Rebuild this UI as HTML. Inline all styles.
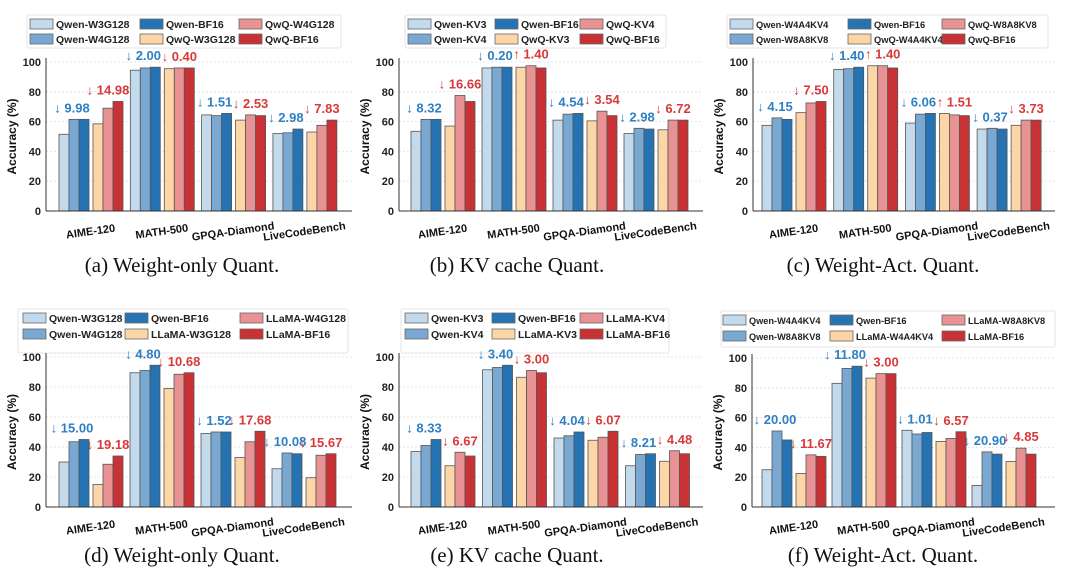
<!DOCTYPE html>
<html><head><meta charset="utf-8">
<style>
html,body{margin:0;padding:0;background:#fff;}
svg{display:block;}
text{font-family:"Liberation Sans",sans-serif;}
.cap{font-family:"Liberation Serif",serif;font-size:21px;fill:#111;}
</style></head>
<body>
<svg id="fig" width="1080" height="576" viewBox="0 0 1080 576"></svg>
<script>
const categories = ["AIME-120","MATH-500","GPQA-Diamond","LiveCodeBench"];
const yTicks = [0,20,40,60,80,100];
const colors = ["#c3d9ec","#79a9d2","#2673b4","#fcd6a6","#e89293","#c93234"];

const namesA = ["Qwen-W3G128","Qwen-W4G128","Qwen-BF16","QwQ-W3G128","QwQ-W4G128","QwQ-BF16"];
const namesB = ["Qwen-KV3","Qwen-KV4","Qwen-BF16","QwQ-KV3","QwQ-KV4","QwQ-BF16"];
const namesC = ["Qwen-W4A4KV4","Qwen-W8A8KV8","Qwen-BF16","QwQ-W4A4KV4","QwQ-W8A8KV8","QwQ-BF16"];
const namesD = ["Qwen-W3G128","Qwen-W4G128","Qwen-BF16","LLaMA-W3G128","LLaMA-W4G128","LLaMA-BF16"];
const namesE = ["Qwen-KV3","Qwen-KV4","Qwen-BF16","LLaMA-KV3","LLaMA-KV4","LLaMA-BF16"];
const namesF = ["Qwen-W4A4KV4","Qwen-W8A8KV8","Qwen-BF16","LLaMA-W4A4KV4","LLaMA-W8A8KV8","LLaMA-BF16"];

const valuesA = [[51.5,61.5,61.5,58.5,69,73.5],[94.5,96,96.5,95.5,96,96],[64.5,64,65.5,61,64.5,64],[52,52.5,55,53,57.5,61]];
const valuesB = [[53.5,61.5,61.5,57,77.5,73.5],[96,96.5,96.5,96.5,97.5,96],[61,65,65.5,60.5,67,64],[52,55.5,55,54.5,61,61]];
const valuesC = [[57.5,62.5,61.5,66,72.5,73.5],[95,95.5,96.5,97.5,97.5,96],[59,65,65.5,65.5,64.5,64],[55,55.5,55,57.5,61,61]];
const valuesD = [[30,43.5,45,15,28.5,34],[89.5,91,94.5,79,88.5,89.5],[49,50,50,33,43.5,50.5],[25.5,36,35.5,19.5,34.5,35.5]];
const valuesE = [[37,41,45,27.5,36.5,34],[91.5,93,94.5,86.5,91,89.5],[46,47.5,50,44.5,46.5,50.5],[27.5,35,35.5,30.5,37.5,35.5]];
const valuesF = [[25,51,45,22.5,35,34],[83,93,94.5,86.5,89.5,89.5],[51.5,49,50,44,46,50.5],[14.5,37,35.5,30.5,39.5,35.5]];

const blueA = ["↓ 9.98","↓ 2.00","↓ 1.51","↓ 2.98"], redA = ["↓ 14.98","↓ 0.40","↓ 2.53","↓ 7.83"];
const blueB = ["↓ 8.32","↓ 0.20","↓ 4.54","↓ 2.98"], redB = ["↓ 16.66","↑ 1.40","↓ 3.54","↓ 6.72"];
const blueC = ["↓ 4.15","↓ 1.40","↓ 6.06","↓ 0.37"], redC = ["↓ 7.50","↑ 1.40","↑ 1.51","↓ 3.73"];
const blueD = ["↓ 15.00","↓ 4.80","↓ 1.52","↓ 10.08"], redD = ["↓ 19.18","↓ 10.68","↓ 17.68","↓ 15.67"];
const blueE = ["↓ 8.33","↓ 3.40","↓ 4.04","↓ 8.21"], redE = ["↓ 6.67","↓ 3.00","↓ 6.07","↓ 4.48"];
const blueF = ["↓ 20.00","↓ 11.80","↓ 1.01","↓ 20.90"], redF = ["↓ 11.67","↓ 3.00","↓ 6.57","↓ 4.85"];

const captions = ["(a)  Weight-only Quant.","(b)  KV cache Quant.","(c)  Weight-Act. Quant.","(d)  Weight-only Quant.","(e)  KV cache Quant.","(f)  Weight-Act. Quant."];

const NS="http://www.w3.org/2000/svg";
const svg=document.getElementById('fig');
function mk(tag,attrs,parent,txt){const e=document.createElementNS(NS,tag);for(const k in attrs)e.setAttribute(k,attrs[k]);if(txt!==undefined)e.textContent=txt;(parent||svg).appendChild(e);return e;}

const panels=[
 {id:'a',names:namesA,vals:valuesA,blue:blueA,red:redA,ax:46,right:352,y0:211,y100:62,s:59,p:71.3,leg:[27,15,314,33],lc:[30,140,239],lr:[24,39],lf:10.5,cx:182,cy:272},
 {id:'b',names:namesB,vals:valuesB,blue:blueB,red:redB,ax:399,right:703,y0:211,y100:62,s:411,p:71,leg:[405,15,261,33],lc:[408,495,580],lr:[24,39],lf:10.5,cx:517,cy:272},
 {id:'c',names:namesC,vals:valuesC,blue:blueC,red:redC,ax:753,right:1055,y0:211,y100:62,s:762,p:71.7,leg:[727,15,321,33],lc:[730,848,942],lr:[24,39],lf:9.3,cx:883,cy:272},
 {id:'d',names:namesD,vals:valuesD,blue:blueD,red:redD,ax:46,right:352,y0:507,y100:357,s:59,p:71,leg:[18,309,330,44],lc:[23,125,240],lr:[318,334],lf:10.5,cx:182,cy:562},
 {id:'e',names:namesE,vals:valuesE,blue:blueE,red:redE,ax:399,right:703,y0:507,y100:357,s:411,p:71.5,leg:[401,309,268,44],lc:[405,492,580],lr:[318,334],lf:10.5,cx:517,cy:562},
 {id:'f',names:namesF,vals:valuesF,blue:blueF,red:redF,ax:752,right:1055,y0:507,y100:358,s:762,p:70,leg:[721,311,334,36],lc:[723,830,942],lr:[320,336],lf:9.2,cx:883,cy:562}
];

panels.forEach((P,pi)=>{
  const g=mk('g',{});
  
  
  const y=v=>P.y0-(v/100)*(P.y0-P.y100);
  const bw=10, gap=4;
  const bx=(c,i)=>P.s+c*P.p+i*bw+(i>=3?gap:0);
  const L=P.leg;
  const lb=mk('rect',{x:L[0],y:L[1],width:L[2],height:L[3],fill:'#fff',stroke:'#ddd','stroke-width':0.8,rx:2},g);
  
  const order=[[0,0],[1,0],[0,1],[1,1],[0,2],[1,2]];
  P.names.forEach((n,i)=>{
    const [rw,cl]=order[i];
    const px=P.lc[cl], py=P.lr[rw];
    const pr=mk('rect',{x:px,y:py-5,width:23,height:10,fill:colors[i],stroke:'#666','stroke-width':0.8},g);
    
    const lt=mk('text',{x:px+26,y:py+4,'font-size':P.lf,'font-weight':'bold',fill:'#222'},g,n);
    
  });
  yTicks.forEach(t=>{
    if(t>0){const gl=mk('line',{x1:P.ax,x2:P.right,y1:y(t),y2:y(t),stroke:'#ddd','stroke-width':0.8,'stroke-dasharray':'2,2'},g);
      }
    const tl=mk('text',{x:P.ax-5,y:y(t)+4,'text-anchor':'end','font-size':11,'font-weight':'bold',fill:'#222'},g,String(t));
    
  });
  P.vals.forEach((row,c)=>{
    row.forEach((v,i)=>{
      const r=mk('rect',{x:bx(c,i),y:y(v),width:bw,height:P.y0-y(v),fill:colors[i],stroke:'#555','stroke-width':0.8},g);
      
      
    });
    const mB=Math.max(row[0],row[1],row[2]), mR=Math.max(row[3],row[4],row[5]);
    const t1=mk('text',{x:bx(c,1)+bw/2-2,y:y(mB)-7,'text-anchor':'middle','font-size':13,'font-weight':'bold',fill:'#2f7fc4'},g,P.blue[c]);
    
    const t2=mk('text',{x:bx(c,4)+bw/2,y:y(mR)-7,'text-anchor':'middle','font-size':13,'font-weight':'bold',fill:'#d83a3a'},g,P.red[c]);
    
    const gx=P.s+c*P.p+32;
    const xl=mk('text',{x:gx,y:P.y0+24,'text-anchor':'middle','font-size':11,'font-weight':'bold',fill:'#111',transform:`rotate(-8 ${gx} ${P.y0+24})`},g,categories[c]);
    
  });
  const ya=mk('line',{x1:P.ax,x2:P.ax,y1:P.y100-4,y2:P.y0,stroke:'#333','stroke-width':1},g);
  
  const xa=mk('line',{x1:P.ax,x2:P.right,y1:P.y0,y2:P.y0,stroke:'#333','stroke-width':1},g);
  
  const ym=(P.y0+P.y100)/2, yx=P.ax-30;
  const yt=mk('text',{x:yx,y:ym,'text-anchor':'middle','font-size':12,'font-weight':'bold',fill:'#111',transform:`rotate(-90 ${yx} ${ym})`},g,'Accuracy (%)');
  
  const cp=mk('text',{x:P.cx,y:P.cy,'text-anchor':'middle',class:'cap'},g,captions[pi]);
  
});
</script>
</body></html>
